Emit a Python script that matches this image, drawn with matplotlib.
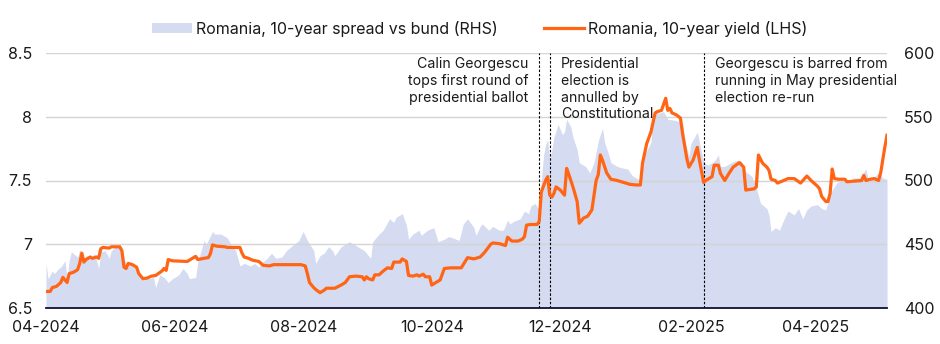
import pandas as pd
import matplotlib
matplotlib.use('Agg')
import matplotlib.pyplot as plt
import matplotlib.dates as mdates
from matplotlib.patches import Patch
from matplotlib.lines import Line2D

plt.rcParams['font.family'] = ['Inter', 'DejaVu Sans']

ORANGE = '#ff6514'
LAVENDER = '#d5dbf0'
NAVY = '#0e1236'
GRID = '#d4d4d4'
TEXT = '#1a1a1a'

# Romania 10y yield, % (LHS)
yield_dates = [
    "2024-04-01", "2024-04-03", "2024-04-04", "2024-04-06", "2024-04-08", "2024-04-09", "2024-04-11",
    "2024-04-12", "2024-04-14", "2024-04-16", "2024-04-17", "2024-04-18", "2024-04-19", "2024-04-20",
    "2024-04-22", "2024-04-23", "2024-04-25", "2024-04-26", "2024-04-27", "2024-04-28",
    "2024-05-01", "2024-05-02", "2024-05-06", "2024-05-07", "2024-05-08", "2024-05-09", "2024-05-10",
    "2024-05-12", "2024-05-14", "2024-05-15", "2024-05-17", "2024-05-19", "2024-05-21", "2024-05-23",
    "2024-05-26", "2024-05-27", "2024-05-28", "2024-05-29", "2024-05-31",
    "2024-06-07", "2024-06-09", "2024-06-11", "2024-06-12", "2024-06-15", "2024-06-17", "2024-06-18",
    "2024-06-19", "2024-06-21", "2024-06-25", "2024-06-26",
    "2024-07-02", "2024-07-03", "2024-07-04", "2024-07-06", "2024-07-08", "2024-07-11", "2024-07-13",
    "2024-07-16", "2024-07-18", "2024-07-31",
    "2024-08-02", "2024-08-03", "2024-08-04", "2024-08-06", "2024-08-07", "2024-08-09", "2024-08-11",
    "2024-08-12", "2024-08-16", "2024-08-19", "2024-08-21", "2024-08-23", "2024-08-26", "2024-08-29",
    "2024-08-30", "2024-08-31",
    "2024-09-01", "2024-09-03", "2024-09-04", "2024-09-06", "2024-09-08", "2024-09-10", "2024-09-12",
    "2024-09-13", "2024-09-16", "2024-09-17", "2024-09-19", "2024-09-20", "2024-09-22", "2024-09-24",
    "2024-09-25", "2024-09-27", "2024-09-28", "2024-09-30",
    "2024-10-01", "2024-10-03", "2024-10-05", "2024-10-07", "2024-10-10", "2024-10-15", "2024-10-18",
    "2024-10-21", "2024-10-24", "2024-10-26", "2024-10-29", "2024-10-30",
    "2024-11-02", "2024-11-05", "2024-11-06", "2024-11-08", "2024-11-11", "2024-11-13", "2024-11-14",
    "2024-11-15", "2024-11-17", "2024-11-20", "2024-11-21", "2024-11-22", "2024-11-24", "2024-11-25",
    "2024-11-26", "2024-11-27", "2024-11-28", "2024-11-29",
    "2024-12-01", "2024-12-03", "2024-12-04", "2024-12-05", "2024-12-07", "2024-12-09", "2024-12-10",
    "2024-12-12", "2024-12-14", "2024-12-16", "2024-12-18", "2024-12-19", "2024-12-20", "2024-12-21",
    "2024-12-23", "2024-12-25", "2024-12-28", "2024-12-31",
    "2025-01-03", "2025-01-06", "2025-01-08", "2025-01-09", "2025-01-11", "2025-01-13", "2025-01-15",
    "2025-01-16", "2025-01-18", "2025-01-20", "2025-01-21", "2025-01-22", "2025-01-23", "2025-01-25",
    "2025-01-27", "2025-01-28", "2025-01-30", "2025-01-31",
    "2025-02-02", "2025-02-04", "2025-02-05", "2025-02-07", "2025-02-08", "2025-02-11", "2025-02-12",
    "2025-02-14", "2025-02-15", "2025-02-17", "2025-02-19", "2025-02-21", "2025-02-24", "2025-02-26",
    "2025-02-27",
    "2025-03-03", "2025-03-04", "2025-03-05", "2025-03-07", "2025-03-09", "2025-03-10", "2025-03-11",
    "2025-03-13", "2025-03-14", "2025-03-17", "2025-03-19", "2025-03-22", "2025-03-25", "2025-03-28",
    "2025-03-30",
    "2025-04-02", "2025-04-03", "2025-04-04", "2025-04-06", "2025-04-07", "2025-04-08", "2025-04-09",
    "2025-04-10", "2025-04-12", "2025-04-15", "2025-04-16", "2025-04-23", "2025-04-24", "2025-04-25",
    "2025-04-27", "2025-04-29",
    "2025-05-01", "2025-05-02", "2025-05-04", "2025-05-05",
]
yield_values = [
    6.63, 6.63, 6.66, 6.67, 6.70, 6.74, 6.70,
    6.77, 6.78, 6.80, 6.85, 6.93, 6.86, 6.88,
    6.90, 6.89, 6.90, 6.89, 6.965, 6.975,
    6.97, 6.98, 6.98, 6.95, 6.82, 6.81, 6.85,
    6.84, 6.82, 6.77, 6.73, 6.735, 6.75, 6.755,
    6.79, 6.81, 6.795, 6.88, 6.87,
    6.865, 6.885, 6.905, 6.88, 6.89, 6.895, 6.925,
    6.995, 6.985, 6.98, 6.975,
    6.975, 6.93, 6.90, 6.89, 6.875, 6.865, 6.835,
    6.83, 6.84, 6.84,
    6.83, 6.77, 6.70, 6.66, 6.645, 6.62, 6.64,
    6.655, 6.655, 6.68, 6.70, 6.745, 6.75, 6.745,
    6.72, 6.745,
    6.73, 6.72, 6.76, 6.76, 6.79, 6.815, 6.81,
    6.86, 6.86, 6.885, 6.865, 6.755, 6.75, 6.76,
    6.75, 6.765, 6.745, 6.745,
    6.68, 6.70, 6.72, 6.81, 6.815, 6.815, 6.895,
    6.885, 6.90, 6.935, 7.00, 7.01,
    7.005, 6.99, 7.055, 7.025, 7.025, 7.04, 7.06,
    7.15, 7.155, 7.155, 7.18, 7.41, 7.50, 7.53,
    7.385, 7.37, 7.40, 7.45,
    7.425, 7.385, 7.595, 7.55, 7.45, 7.335, 7.165,
    7.205, 7.22, 7.27, 7.50, 7.545, 7.70, 7.66,
    7.56, 7.51, 7.50, 7.485,
    7.47, 7.465, 7.465, 7.635, 7.79, 7.88, 8.03,
    8.04, 8.05, 8.145, 8.05, 8.065, 8.03, 8.015,
    7.99, 7.87, 7.675, 7.605,
    7.66, 7.76, 7.66, 7.485, 7.50, 7.53, 7.62,
    7.62, 7.555, 7.50, 7.555, 7.605, 7.64, 7.605,
    7.425,
    7.435, 7.45, 7.70, 7.635, 7.605, 7.58, 7.51,
    7.50, 7.48, 7.50, 7.515, 7.515, 7.48, 7.535,
    7.50,
    7.455, 7.435, 7.375, 7.335, 7.335, 7.40, 7.59,
    7.515, 7.51, 7.51, 7.49, 7.50, 7.54, 7.50,
    7.51, 7.515,
    7.50, 7.56, 7.765, 7.855,
]

# Romania 10y spread over bunds, bp (RHS)
spread_dates = [
    "2024-04-01", "2024-04-02", "2024-04-04", "2024-04-05", "2024-04-07", "2024-04-08", "2024-04-10",
    "2024-04-11", "2024-04-12", "2024-04-13", "2024-04-16", "2024-04-17", "2024-04-19", "2024-04-20",
    "2024-04-23", "2024-04-24", "2024-04-26", "2024-04-27", "2024-04-29",
    "2024-05-01", "2024-05-02", "2024-05-04", "2024-05-06", "2024-05-08", "2024-05-09", "2024-05-11",
    "2024-05-13", "2024-05-16", "2024-05-18", "2024-05-20", "2024-05-22", "2024-05-23", "2024-05-25",
    "2024-05-27", "2024-05-29", "2024-05-31",
    "2024-06-03", "2024-06-05", "2024-06-07", "2024-06-08", "2024-06-11", "2024-06-12", "2024-06-15",
    "2024-06-16", "2024-06-19", "2024-06-20", "2024-06-23", "2024-06-26", "2024-06-28", "2024-06-30",
    "2024-07-02", "2024-07-04", "2024-07-07", "2024-07-09", "2024-07-11", "2024-07-12", "2024-07-15",
    "2024-07-17", "2024-07-19", "2024-07-22", "2024-07-24", "2024-07-27", "2024-07-30",
    "2024-08-01", "2024-08-03", "2024-08-06", "2024-08-07", "2024-08-09", "2024-08-11", "2024-08-13",
    "2024-08-15", "2024-08-16", "2024-08-19", "2024-08-21", "2024-08-23", "2024-08-26", "2024-08-28",
    "2024-08-30",
    "2024-09-02", "2024-09-03", "2024-09-06", "2024-09-08", "2024-09-10", "2024-09-11", "2024-09-13",
    "2024-09-14", "2024-09-17", "2024-09-19", "2024-09-20", "2024-09-22", "2024-09-25", "2024-09-26",
    "2024-09-29",
    "2024-10-02", "2024-10-04", "2024-10-07", "2024-10-09", "2024-10-11", "2024-10-14", "2024-10-16",
    "2024-10-18", "2024-10-21", "2024-10-22", "2024-10-24", "2024-10-25", "2024-10-28", "2024-10-30",
    "2024-11-02", "2024-11-04", "2024-11-06", "2024-11-07", "2024-11-09", "2024-11-12", "2024-11-14",
    "2024-11-16", "2024-11-17", "2024-11-19", "2024-11-21", "2024-11-22", "2024-11-23", "2024-11-24",
    "2024-11-25", "2024-11-26", "2024-11-27", "2024-11-28", "2024-11-30",
    "2024-12-02", "2024-12-03", "2024-12-04", "2024-12-06", "2024-12-07", "2024-12-09", "2024-12-10",
    "2024-12-13", "2024-12-15", "2024-12-17", "2024-12-19", "2024-12-21", "2024-12-22", "2024-12-24",
    "2024-12-25", "2024-12-28", "2024-12-30",
    "2025-01-02", "2025-01-04", "2025-01-06", "2025-01-08", "2025-01-10", "2025-01-13", "2025-01-14",
    "2025-01-17", "2025-01-19", "2025-01-21", "2025-01-25", "2025-01-28", "2025-01-29", "2025-01-31",
    "2025-02-01", "2025-02-04", "2025-02-05", "2025-02-07", "2025-02-09", "2025-02-12", "2025-02-14",
    "2025-02-15", "2025-02-17", "2025-02-20", "2025-02-23", "2025-02-25", "2025-02-27",
    "2025-03-02", "2025-03-04", "2025-03-06", "2025-03-09", "2025-03-10", "2025-03-11", "2025-03-13",
    "2025-03-15", "2025-03-17", "2025-03-19", "2025-03-22", "2025-03-24", "2025-03-26", "2025-03-28",
    "2025-03-30",
    "2025-04-02", "2025-04-04", "2025-04-06", "2025-04-08", "2025-04-10", "2025-04-11", "2025-04-14",
    "2025-04-16", "2025-04-19", "2025-04-22", "2025-04-25", "2025-04-26", "2025-04-29",
    "2025-05-01", "2025-05-03", "2025-05-05",
]
spread_values = [
    435, 423, 429, 427, 431, 432, 437,
    423, 437, 444, 440, 446, 439, 441,
    440, 443, 431, 444, 445,
    439, 445, 448, 450, 440, 433, 435,
    433, 426, 424, 423, 424, 416, 426,
    424, 420, 423,
    426, 431, 427, 423, 424, 436, 453,
    450, 460, 458, 458, 455, 449, 445,
    433, 435, 433, 435, 432, 435, 439,
    443, 439, 440, 445, 449, 453,
    460, 453, 445, 435, 441, 443, 448,
    445, 441, 448, 450, 452, 449, 447,
    445,
    439, 452, 458, 461, 467, 470, 467,
    471, 474, 465, 454, 458, 461, 457,
    461,
    463, 452, 454, 456, 455, 453, 466,
    470, 463, 457, 464, 466, 461, 464,
    461, 461, 469, 466, 468, 470, 476,
    474, 480, 482, 477, 500, 519, 528,
    532, 516, 524, 534, 544,
    536, 538, 548, 542, 534, 524, 514,
    511, 506, 514, 531, 541, 530, 520,
    514, 511, 510,
    509, 504, 502, 500, 520, 530, 553,
    553, 554, 548, 547, 545, 532, 519,
    529, 538, 530, 514, 512, 515, 520,
    511, 511, 514, 516, 515, 507,
    503, 494, 482, 478, 473, 460, 463,
    461, 469, 476, 473, 478, 470, 477,
    480,
    481, 478, 477, 490, 495, 498, 500,
    499, 502, 502, 509, 502, 503,
    506, 502, 501,
]

event_dates = ["2024-11-21", "2024-11-26", "2025-02-07"]
event_labels = [
    "Calin Georgescu\ntops first round of\npresidential ballot",
    "Presidential\nelection is\nannulled by\nConstitutional",
    "Georgescu is barred from\nrunning in May presidential\nelection re-run",
]
event_align = ["right", "left", "left"]

tick_months = ["2024-04-01", "2024-06-01", "2024-08-01", "2024-10-01",
               "2024-12-01", "2025-02-01", "2025-04-01"]

yield_ticks = [6.5, 7, 7.5, 8, 8.5]
spread_ticks = [400, 450, 500, 550, 600]

y_dates = pd.to_datetime(yield_dates)
s_dates = pd.to_datetime(spread_dates)

fig = plt.figure(figsize=(9.4, 3.44), dpi=100)
ax = fig.add_axes([46 / 940, 36 / 344, 841 / 940, 255 / 344])
ax2 = ax.twinx()
# yield axis on top so its grid sits over the spread area
ax.set_zorder(ax2.get_zorder() + 1)
ax.patch.set_visible(False)

ax2.fill_between(s_dates, 400, spread_values, color=LAVENDER, lw=0)
ax.plot(y_dates, yield_values, color=ORANGE, lw=2.3, solid_joinstyle='round', zorder=3)

ax.set_ylim(6.5, 8.5)
ax2.set_ylim(400, 600)
ax.set_xlim(y_dates[0], y_dates[-1])

ax.set_yticks(yield_ticks)
ax.set_yticklabels([f"{v:g}" for v in yield_ticks])
ax2.set_yticks(spread_ticks)
ax.set_xticks(pd.to_datetime(tick_months))
ax.xaxis.set_major_formatter(mdates.DateFormatter('%m-%Y'))

ax.grid(axis='y', color=GRID, lw=1)
ax.grid(axis='x', visible=False)

for a in (ax, ax2):
    for side in ('top', 'left', 'right', 'bottom'):
        a.spines[side].set_visible(False)
ax.spines['bottom'].set_visible(True)
ax.spines['bottom'].set_color(NAVY)
ax.spines['bottom'].set_linewidth(1.3)

ax.tick_params(axis='y', length=0, pad=10, labelsize=11.5, labelcolor=TEXT)
ax.tick_params(axis='x', length=0, pad=9, labelsize=11.5, labelcolor=TEXT)
ax2.tick_params(axis='y', length=0, pad=12, labelsize=11.5, labelcolor=TEXT)

for d, label, ha in zip(event_dates, event_labels, event_align):
    d = pd.Timestamp(d)
    ax.axvline(d, color='black', lw=0.8, ls=(0, (2.2, 1.6)), zorder=2)
    dx = -8 if ha == 'right' else 8
    ax.annotate(label, xy=(d, 1), xycoords=('data', 'axes fraction'),
                xytext=(dx, -3), textcoords='offset points',
                ha=ha, va='top', fontsize=10.2, linespacing=1.25, color=TEXT)

handles = [Patch(facecolor=LAVENDER, edgecolor='none'),
           Line2D([], [], color=ORANGE, lw=2.3)]
labels = ["Romania, 10-year spread vs bund (RHS)", "Romania, 10-year yield (LHS)"]
fig.legend(handles, labels, loc='center', bbox_to_anchor=(0.51, 0.917), ncol=2,
           frameon=False, fontsize=11.5, handlelength=2.5, handleheight=0.55,
           handletextpad=0.25, columnspacing=2.9, labelcolor=TEXT)

fig.savefig('out.png', dpi=100)
